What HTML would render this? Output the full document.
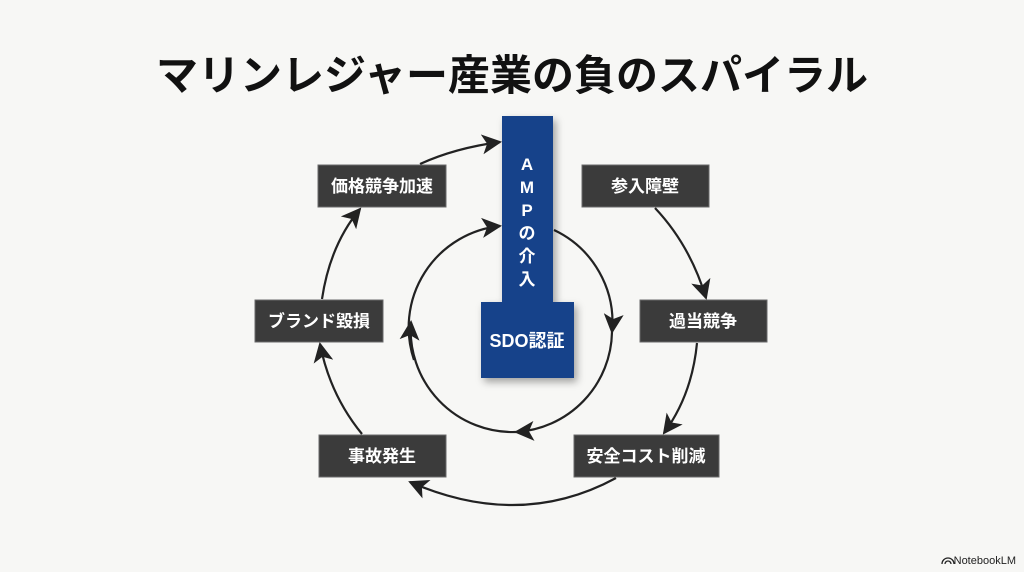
<!DOCTYPE html>
<html><head><meta charset="utf-8"><style>
html,body{margin:0;padding:0;background:#f7f7f5;}
body{width:1024px;height:572px;overflow:hidden;position:relative;font-family:"Liberation Sans","Noto Sans CJK JP",sans-serif;}
</style></head><body>
<svg width="1024" height="572" viewBox="0 0 1024 572" xmlns="http://www.w3.org/2000/svg" style="position:absolute;left:0;top:0">
<defs>
<marker id="b" viewBox="0 0 10 10" refX="9" refY="5" markerWidth="20" markerHeight="20" markerUnits="userSpaceOnUse" orient="auto"><path d="M0,0 L10,5 L0,10 L2.5,5 z" fill="#222"/></marker>
<filter id="s" x="-30%" y="-30%" width="160%" height="160%"><feDropShadow dx="3" dy="4" stdDeviation="4" flood-color="#000" flood-opacity="0.35"/></filter>
</defs>
<text x="512" y="90" text-anchor="middle" font-size="42" font-weight="bold" fill="#111" font-family="Liberation Sans,Noto Sans CJK JP,sans-serif">マリンレジャー産業の負のスパイラル</text>
<g fill="none" stroke="#222" stroke-width="2.2" marker-end="url(#b)">
<path d="M420,164 Q455,148 500,142"/>
<path d="M655,208 Q690,245 706,298"/>
<path d="M697,343 Q692,395 664,433"/>
<path d="M616,478 Q520,530 410,482"/>
<path d="M362,434 Q330,395 320,344"/>
<path d="M322,299 Q330,245 360,209"/>
<path d="M414,360 A102,102 0 0 1 500,226" />
<path d="M554,230 A102,102 0 0 1 612,332" />
<path d="M612,332 A102,102 0 0 1 516,432" />
<path d="M516,432 A102,102 0 0 1 411,322" />
</g>
<g filter="url(#s)">
<rect x="502" y="116" width="51" height="190" fill="#14428a"/>
<rect x="481" y="302" width="93" height="76" fill="#14428a"/>
</g>
<g fill="#fff" font-weight="bold" font-size="17" text-anchor="middle" font-family="Liberation Sans,Noto Sans CJK JP,sans-serif">
<text x="527" y="170">A</text>
<text x="527" y="193">M</text>
<text x="527" y="216">P</text>
<text x="527" y="239">の</text>
<text x="527" y="262">介</text>
<text x="527" y="285">入</text>
<text x="527" y="347" font-size="18">SDO認証</text>
</g>
<g fill="#3b3b3b" stroke="#6a6a6a" stroke-width="1">
<rect x="318" y="165" width="128" height="42"/>
<rect x="582" y="165" width="127" height="42"/>
<rect x="255" y="300" width="128" height="42"/>
<rect x="640" y="300" width="127" height="42"/>
<rect x="319" y="435" width="127" height="42"/>
<rect x="574" y="435" width="145" height="42"/>
</g>
<g fill="#fff" font-weight="bold" font-size="17" text-anchor="middle" font-family="Liberation Sans,Noto Sans CJK JP,sans-serif">
<text x="382" y="192">価格競争加速</text>
<text x="645" y="192">参入障壁</text>
<text x="319" y="327">ブランド毀損</text>
<text x="703" y="327">過当競争</text>
<text x="382" y="462">事故発生</text>
<text x="646" y="462">安全コスト削減</text>
</g>
<text x="1016" y="564" text-anchor="end" font-size="11" fill="#222" font-family="Liberation Sans,sans-serif">NotebookLM</text>
<g fill="none" stroke="#222" stroke-width="1.3"><path d="M942,564 a6,6 0 0 1 12,0"/><path d="M945,564 a3,3 0 0 1 6,0"/></g>
</svg>
</body></html>
